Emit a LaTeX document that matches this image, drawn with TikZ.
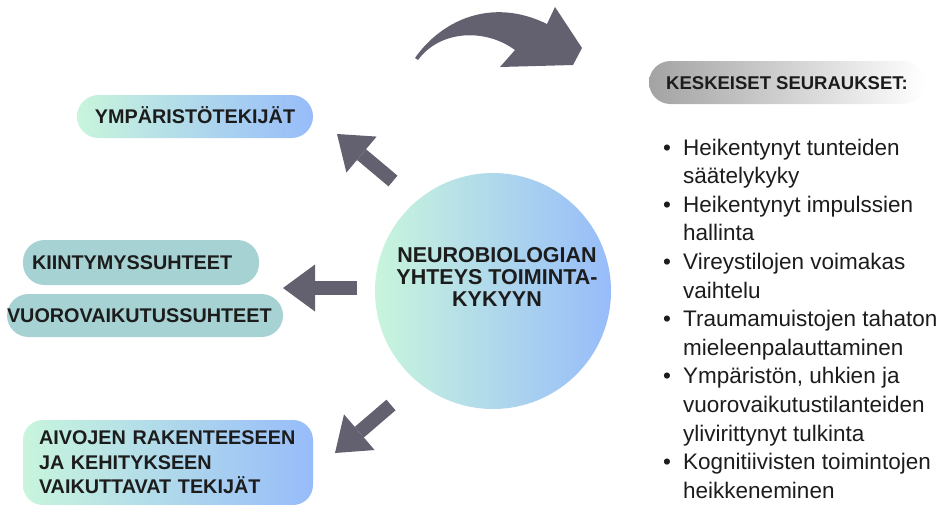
\documentclass[tikz,border=0pt]{standalone}
\usepackage{fontspec}
\setmainfont{Liberation Sans}
\usepackage{xcolor}
\usetikzlibrary{positioning, arrows.meta}
\definecolor{mint}{HTML}{C8F5DC}
\definecolor{sky}{HTML}{97BCFA}
\definecolor{tealbox}{HTML}{A7D2D3}
\definecolor{arrowgrey}{HTML}{636170}
\definecolor{headgrey}{HTML}{A3A3A3}
\definecolor{ink}{HTML}{1C1C1C}

\begin{document}
\begin{tikzpicture}[x=1pt, y=-1pt, every node/.style={text=ink},
    pill/.style={rectangle, rounded corners=21.5pt, minimum height=43pt, inner sep=0pt, font=\fontsize{19.8}{22}\bfseries, text height=14.2pt, text depth=0pt},
    bigarrow/.style={arrowgrey, line width=14pt, -{Triangle[length=32pt, width=47pt, line width=0pt]}}]
        \useasboundingbox (0,0) rectangle (936,504);
        % Centre circle
        \node[circle, minimum size=236pt, inner sep=0pt, left color=mint, right color=sky] (core) at (493,291) {};
        \node[anchor=north, inner sep=0pt, align=center, font=\fontsize{21.5}{22}\bfseries] (coretext) at (497,247) {NEUROBIOLOGIAN\\ YHTEYS TOIMINTA-\\ KYKYYN};
        % Boxes on the left
        \node[pill, left color=mint, right color=sky, minimum width=236pt] (env) at (195,116.5) {YMPÄRISTÖTEKIJÄT};
        \node[pill, fill=tealbox, minimum width=236pt, minimum height=45pt, text width=218pt, align=left] (attach) at (141,262.5) {KIINTYMYSSUHTEET};
        \node[pill, fill=tealbox, minimum width=276pt, text width=276pt, align=left] (inter) at (145,315.5) {VUOROVAIKUTUSSUHTEET};
        \node[rectangle, rounded corners=20pt, left color=mint, right color=sky, minimum width=290pt, minimum height=85pt, text width=258pt, inner sep=0pt, align=left, font=\fontsize{19.8}{24.5}\bfseries] (brain) at (168,462.5) {AIVOJEN RAKENTEESEEN\\ JA KEHITYKSEEN\\ VAIKUTTAVAT TEKIJÄT};
        % Consequences on the right
        \node[pill, left color=headgrey, right color=white, minimum width=276pt, font=\fontsize{18.5}{20}\bfseries, text height=13.3pt] (keyhead) at (787,82.5) {KESKEISET SEURAUKSET:};
        \node[anchor=base west, inner sep=0pt, font=\fontsize{22.5}{28.6}\selectfont] (effects) at (663,155) {%
            \begin{tabular}[t]{@{}p{20pt}@{}l@{}}
            \textbullet & Heikentynyt tunteiden\\
             & säätelykyky\\
            \textbullet & Heikentynyt impulssien\\
             & hallinta\\
            \textbullet & Vireystilojen voimakas\\
             & vaihtelu\\
            \textbullet & Traumamuistojen tahaton\\
             & mieleenpalauttaminen\\
            \textbullet & Ympäristön, uhkien ja\\
             & vuorovaikutustilanteiden\\
             & ylivirittynyt tulkinta\\
            \textbullet & Kognitiivisten toimintojen\\
             & heikkeneminen
            \end{tabular}};
        % Arrows from the circle
        \coordinate (envtail) at (393,181);
        \coordinate (envtip) at (337,134);
        \coordinate (intertail) at (357,288);
        \coordinate (intertip) at (283,288);
        \coordinate (braintail) at (391,405);
        \coordinate (braintip) at (335,453);
        \draw[bigarrow] (envtail) -- (envtip);
        \draw[bigarrow] (intertail) -- (intertip);
        \draw[bigarrow] (braintail) -- (braintip);
        % Curved arrow at the top
        \fill[arrowgrey] (415,58) .. controls (440,22) and (490,-4) .. (547,24) -- (555,7) -- (582,48) -- (573,65) -- (500,67) -- (515,50) .. controls (485,28) and (440,30) .. (418,60) -- cycle;
    \end{tikzpicture}
\end{document}
